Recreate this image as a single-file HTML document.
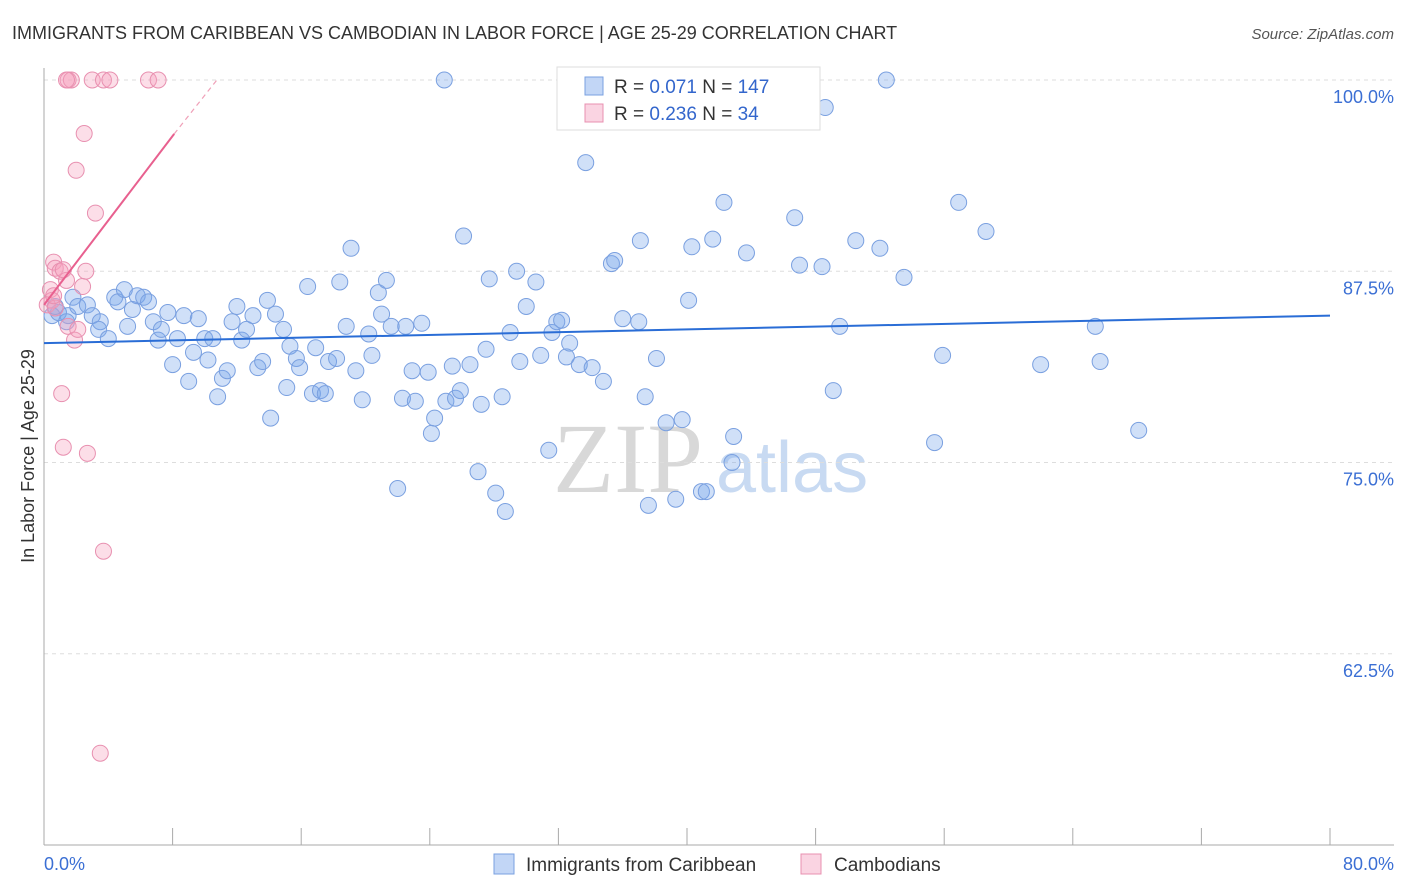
<!DOCTYPE html>
<html><head><meta charset="utf-8"><style>
body{margin:0;background:#fff;font-family:"Liberation Sans",sans-serif;}
svg{display:block}
</style></head><body>
<svg id="chart" width="1406" height="892" viewBox="0 0 1406 892" xmlns="http://www.w3.org/2000/svg" font-family="Liberation Sans, sans-serif">
<text x="12" y="39" font-size="18" fill="#333">IMMIGRANTS FROM CARIBBEAN VS CAMBODIAN IN LABOR FORCE | AGE 25-29 CORRELATION CHART</text>
<text x="1394" y="39" font-size="15" fill="#555" font-style="italic" text-anchor="end">Source: ZipAtlas.com</text>
<g>
<text x="553" y="492" font-size="100" font-family="Liberation Serif, serif" fill="#d8d8d8">ZIP</text>
<text x="716" y="492" font-size="72" fill="#c8daf2">atlas</text>
</g>
<g id="grid"></g>
<g id="axes"></g>
<g id="pts"></g>
<g id="trends"></g>
<text transform="translate(34,456) rotate(-90)" font-size="18" fill="#333" text-anchor="middle">In Labor Force | Age 25-29</text>
<g>
<rect x="557" y="67" width="263" height="63" fill="#fff" stroke="#ddd"/>
<rect x="585" y="77" width="18" height="18" fill="rgba(120,165,235,0.45)" stroke="#7aa0e0"/>
<rect x="585" y="104" width="18" height="18" fill="rgba(245,160,190,0.45)" stroke="#e890b0"/>
<text x="614" y="93" font-size="19" fill="#333">R = <tspan fill="#3366cc">0.071</tspan>   N = <tspan fill="#3366cc">147</tspan></text>
<text x="614" y="120" font-size="19" fill="#333">R = <tspan fill="#3366cc">0.236</tspan>   N =  <tspan fill="#3366cc"> 34</tspan></text>
</g>
<g>
<rect x="494" y="854" width="20" height="20" fill="rgba(120,165,235,0.45)" stroke="#7aa0e0"/>
<text x="526" y="871" font-size="19" fill="#333">Immigrants from Caribbean</text>
<rect x="801" y="854" width="20" height="20" fill="rgba(245,160,190,0.45)" stroke="#e890b0"/>
<text x="834" y="871" font-size="19" fill="#333">Cambodians</text>
</g>
</svg>
<script>
const blueX=[0.5,0.9,1.5,1.8,2.1,2.7,3.0,3.5,3.4,4.0,4.4,4.6,5.0,5.2,5.5,5.8,6.2,6.5,6.8,7.1,7.3,7.7,8.0,8.3,8.7,9.0,9.3,9.6,10.0,10.2,10.5,10.8,11.1,11.4,11.7,12.0,12.3,12.6,13.0,13.3,13.6,13.9,14.1,14.4,14.9,15.3,15.7,15.9,15.1,16.4,16.7,16.9,17.2,17.5,17.7,18.2,18.4,18.8,19.1,19.4,19.8,20.2,20.4,20.8,21.0,21.3,21.6,22.0,22.3,22.5,22.9,23.1,23.5,23.9,24.1,24.3,25.0,25.4,25.6,25.9,26.1,26.5,27.0,27.2,27.5,27.7,28.1,28.5,28.7,29.0,29.4,29.6,30.0,30.6,30.9,31.4,31.6,31.9,32.2,32.5,32.7,33.3,33.7,34.1,34.8,35.3,35.5,36.0,37.0,37.1,37.6,37.4,38.1,38.7,39.3,39.7,40.1,40.3,40.9,41.2,41.6,42.3,42.8,42.9,43.7,46.7,47.0,48.4,48.6,49.1,49.5,50.5,52.0,53.5,55.4,55.9,56.9,58.6,62.0,65.4,65.7,68.1,24.9,52.4,1.4,0.7];
const blueY=[84.6,84.8,84.6,85.8,85.2,85.3,84.6,84.2,83.7,83.1,85.8,85.5,86.3,83.9,85.0,85.9,85.8,85.5,84.2,83.0,83.7,84.8,81.4,83.1,84.6,80.3,82.2,84.4,83.1,81.7,83.1,79.3,80.5,81.0,84.2,85.2,83.0,83.7,84.6,81.2,81.6,85.6,77.9,84.7,83.7,82.6,81.8,81.2,79.9,86.5,79.5,82.5,79.7,79.5,81.6,81.8,86.8,83.9,89.0,81.0,79.1,83.4,82.0,86.1,84.7,86.9,83.9,73.3,79.2,83.9,81.0,79.0,84.1,80.9,76.9,77.9,79.0,81.3,79.2,79.7,89.8,81.4,74.4,78.8,82.4,87.0,73.0,79.3,71.8,83.5,87.5,81.6,85.2,86.8,82.0,75.8,83.5,84.2,84.3,81.9,82.8,81.4,94.6,81.2,80.3,88.0,88.2,84.4,84.2,89.5,72.2,79.3,81.8,77.6,72.6,77.8,85.6,89.1,73.1,73.1,89.6,92.0,75.0,76.7,88.7,91.0,87.9,87.8,98.2,79.7,83.9,89.5,89.0,87.1,76.3,82.0,92.0,90.1,81.4,83.9,81.6,77.1,100,100,84.2,85.2];
const pinkX=[1.5,1.7,1.4,3.0,3.7,4.1,6.5,7.1,2.5,2.0,3.2,0.6,0.7,1.0,2.6,1.4,0.4,2.4,0.5,0.2,0.7,1.5,1.9,1.1,1.2,2.7,3.7,3.5,2.1,0.6,1.2];
const pinkY=[100,100,100,100,100,100,100,100,96.5,94.1,91.3,88.1,87.7,87.5,87.5,86.9,86.3,86.5,85.6,85.3,85.1,83.9,83.0,79.5,76.0,75.6,69.2,56.0,83.7,85.9,87.6];
const blueTrend=[82.8,0.0225]; // intercept, slope
const pinkTrend=[85.3,1.38];
const yTicks=[100,87.5,75,62.5];
const yTickLabels=["100.0%","87.5%","75.0%","62.5%"];
const xTicks=[0,8,16,24,32,40,48,56,64,72,80];
const xTickLabels=["0.0%","80.0%"];

const NS="http://www.w3.org/2000/svg";
const X0=44,X1=1330,YTOP=80,PXPER=15.3;
const sx=v=>X0+(v/80)*(X1-X0);
const sy=v=>YTOP+(100-v)*PXPER;
function mk(tag,attrs,parent){const e=document.createElementNS(NS,tag);for(const k in attrs)e.setAttribute(k,attrs[k]);parent.appendChild(e);return e;}
const grid=document.getElementById('grid'),axes=document.getElementById('axes'),pts=document.getElementById('pts'),tr=document.getElementById('trends');
yTicks.forEach((t,i)=>{
  const l=mk('line',{x1:X0,x2:1394,y1:sy(t),y2:sy(t),stroke:'#ddd','stroke-dasharray':'4,4'},grid);
  
  
  const tx=mk('text',{x:1394,y:sy(t)+23,'font-size':18,fill:'#3b6fd4','text-anchor':'end'},axes);
  tx.textContent=yTickLabels[i];
  
  
});
mk('line',{x1:X0,x2:X0,y1:68,y2:845,stroke:'#aaa'},axes);
mk('line',{x1:X0,x2:1394,y1:845,y2:845,stroke:'#aaa'},axes);
xTicks.forEach(t=>{
  const l=mk('line',{x1:sx(t),x2:sx(t),y1:828,y2:845,stroke:'#aaa'},axes);
  
  
});
const xl0=mk('text',{x:44,y:870,'font-size':18,fill:'#3b6fd4'},axes);xl0.textContent=xTickLabels[0];


const xl1=mk('text',{x:1394,y:870,'font-size':18,fill:'#3b6fd4','text-anchor':'end'},axes);xl1.textContent=xTickLabels[1];


blueX.forEach((x,i)=>{
  const c=mk('circle',{cx:sx(x),cy:sy(blueY[i]),r:8,fill:'rgba(120,165,235,0.35)',stroke:'#7aa0e0','stroke-width':1},pts);
  
  
});
pinkX.forEach((x,i)=>{
  const c=mk('circle',{cx:sx(x),cy:sy(pinkY[i]),r:8,fill:'rgba(245,160,190,0.35)',stroke:'#e890b0','stroke-width':1},pts);
  
  
});
const bl=mk('line',{x1:sx(0),y1:sy(blueTrend[0]),x2:sx(80),y2:sy(blueTrend[0]+blueTrend[1]*80),stroke:'#2a6dd6','stroke-width':2},tr);


const pe=8.1,pd=(100-pinkTrend[0])/pinkTrend[1];
const pl=mk('line',{x1:sx(0),y1:sy(pinkTrend[0]),x2:sx(pe),y2:sy(pinkTrend[0]+pinkTrend[1]*pe),stroke:'#e8608f','stroke-width':2},tr);


const pdl=mk('line',{x1:sx(pe),y1:sy(pinkTrend[0]+pinkTrend[1]*pe),x2:sx(pd+0.2),y2:sy(100)-2,stroke:'#f0a0b8','stroke-width':1.2,'stroke-dasharray':'5,4'},tr);


</script>
</body></html>
